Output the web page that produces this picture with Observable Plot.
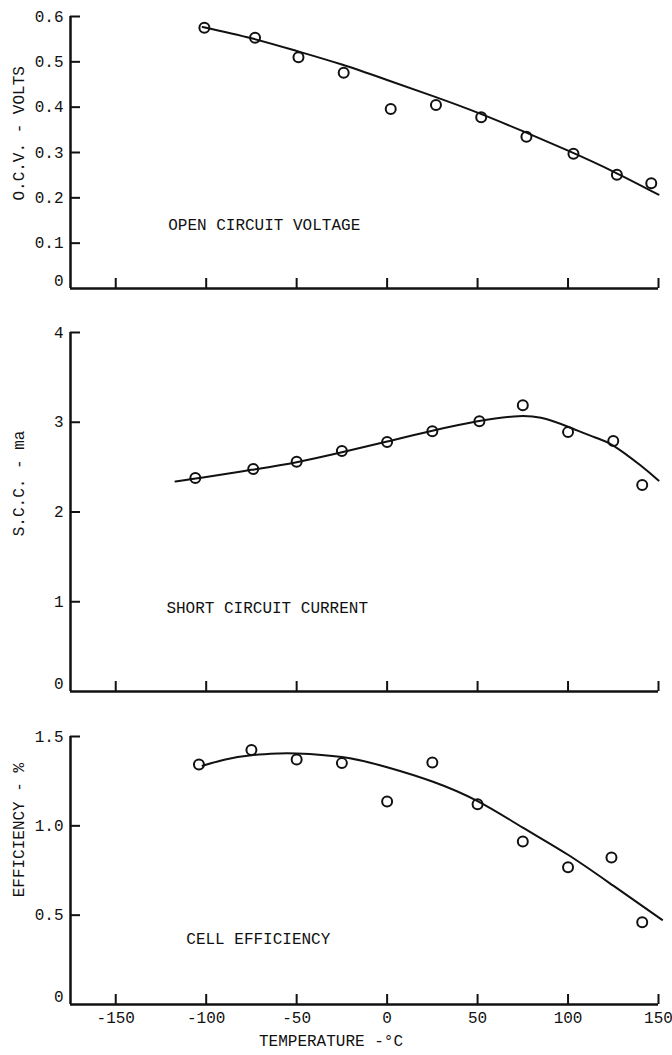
<!DOCTYPE html>
<html><head><meta charset="utf-8">
<script src="https://cdn.jsdelivr.net/npm/d3@7"></script>
<script src="https://cdn.jsdelivr.net/npm/@observablehq/plot@0.6"></script>
<style>body{margin:0;background:#fff} svg{display:block}</style>
</head><body><div id="chart"></div>
<script>
// Shared temperature axis
const xTicks = [-150, -100, -50, 0, 50, 100, 150];
const xTickLabels = ["-150", "-100", "-50", "0", "50", "100", "150"];
const xDomain = [-175, 150];

// Panel 1: open circuit voltage
const ocvTemps = [-101, -73, -49, -24, 2, 27, 52, 77, 103, 127, 146];
const ocvValues = [0.575, 0.553, 0.510, 0.476, 0.396, 0.405, 0.378, 0.335, 0.297, 0.251, 0.232];
const ocvFitTemps = [-102, -75, -50, -25, 0, 25, 50, 75, 100, 125, 150];
const ocvFitValues = [0.577, 0.552, 0.524, 0.494, 0.460, 0.425, 0.388, 0.347, 0.304, 0.258, 0.207];
const ocvTicks = [0, 0.1, 0.2, 0.3, 0.4, 0.5, 0.6];
const ocvTickLabels = ["0", "0.1", "0.2", "0.3", "0.4", "0.5", "0.6"];

// Panel 2: short circuit current
const sccTemps = [-106, -74, -50, -25, 0, 25, 51, 75, 100, 125, 141];
const sccValues = [2.38, 2.48, 2.56, 2.68, 2.78, 2.90, 3.01, 3.19, 2.89, 2.79, 2.30];
const sccFitTemps = [-117, -100, -75, -50, -25, 0, 25, 50, 70, 85, 100, 115, 125, 140, 150];
const sccFitValues = [2.34, 2.39, 2.47, 2.555, 2.665, 2.785, 2.905, 3.01, 3.065, 3.05, 2.95, 2.83, 2.74, 2.52, 2.35];
const sccTicks = [0, 1, 2, 3, 4];
const sccTickLabels = ["0", "1", "2", "3", "4"];

// Panel 3: cell efficiency
const effTemps = [-104, -75, -50, -25, 0, 25, 50, 75, 100, 124, 141];
const effValues = [1.343, 1.425, 1.371, 1.351, 1.136, 1.354, 1.121, 0.912, 0.768, 0.823, 0.461];
const effFitTemps = [-102, -90, -75, -60, -50, -25, 0, 25, 50, 75, 100, 125, 152];
const effFitValues = [1.336, 1.37, 1.395, 1.405, 1.405, 1.385, 1.328, 1.248, 1.138, 0.99, 0.838, 0.665, 0.474];
const effTicks = [0, 0.5, 1.0, 1.5];
const effTickLabels = ["0", "0.5", "1.0", "1.5"];

const INK = "#111";
const W = 672, ML = 70, MR = 14;

function panel(o) {
  const plotH = o.height - o.marginTop - o.marginBottom;
  const plotW = W - ML - MR;
  const idx = d3.range(o.temps.length);
  const fidx = d3.range(o.fitT.length);
  const nonzero = o.yTicks.filter(d => d !== 0);
  const fmtY = d => o.yLabels[o.yTicks.indexOf(d)];
  const marks = [
    Plot.ruleY([0], {stroke: INK, strokeWidth: 2.5}),
    Plot.ruleX([xDomain[0]], {stroke: INK, strokeWidth: 2.5}),
    Plot.tickY(nonzero, {y: d => d, stroke: INK, strokeWidth: 2, insetRight: plotW - 10}),
    Plot.tickX(xTicks, {x: d => d, stroke: INK, strokeWidth: 2, insetTop: plotH - 10}),
    Plot.axisY(nonzero, {tickSize: 0, tickPadding: 7, tickFormat: fmtY, label: null}),
    Plot.axisY([0], {tickSize: 0, tickPadding: 7, tickFormat: fmtY, label: null, dy: -8}),
    Plot.text([o.yTitle], {frameAnchor: "left", y: o.yTitleY, dx: -52, rotate: -90, fill: INK}),
    Plot.text([o.title], {x: o.titleX, y: o.titleY, textAnchor: "start", fill: INK}),
    Plot.line(fidx, {x: i => o.fitT[i], y: i => o.fitV[i], curve: "natural", stroke: INK, strokeWidth: 2}),
    Plot.dot(idx, {x: i => o.temps[i], y: i => o.values[i], r: 5, stroke: INK, strokeWidth: 2, fill: "none"})
  ];
  if (o.showX) {
    marks.push(Plot.axisX(xTicks, {tickSize: 0, tickPadding: 7, tickFormat: d => xTickLabels[xTicks.indexOf(d)], label: null}));
    marks.push(Plot.text(["TEMPERATURE -°C"], {x: -31, frameAnchor: "bottom", dy: 41, fill: INK}));
  }
  return Plot.plot({
    width: W, height: o.height,
    marginLeft: ML, marginRight: MR, marginTop: o.marginTop, marginBottom: o.marginBottom,
    style: {fontFamily: "Liberation Mono, monospace", fontSize: "16px", color: INK, background: "white"},
    x: {domain: xDomain, axis: o.showX ? undefined : null},
    y: {domain: [0, o.yTicks[o.yTicks.length - 1]]},
    marks
  });
}

const chart = document.getElementById("chart");
chart.append(panel({
  height: 310, marginTop: 16, marginBottom: 22,
  temps: ocvTemps, values: ocvValues, fitT: ocvFitTemps, fitV: ocvFitValues,
  yTicks: ocvTicks, yLabels: ocvTickLabels,
  yTitle: "O.C.V. - VOLTS", yTitleY: 0.194,
  title: "OPEN CIRCUIT VOLTAGE", titleX: -121, titleY: 0.141, showX: false
}));
chart.append(panel({
  height: 405, marginTop: 22, marginBottom: 24,
  temps: sccTemps, values: sccValues, fitT: sccFitTemps, fitV: sccFitValues,
  yTicks: sccTicks, yLabels: sccTickLabels,
  yTitle: "S.C.C. - ma", yTitleY: 1.73,
  title: "SHORT CIRCUIT CURRENT", titleX: -122, titleY: 0.936, showX: false
}));
chart.append(panel({
  height: 340, marginTop: 21, marginBottom: 51,
  temps: effTemps, values: effValues, fitT: effFitTemps, fitV: effFitValues,
  yTicks: effTicks, yLabels: effTickLabels,
  yTitle: "EFFICIENCY - %", yTitleY: 0.60,
  title: "CELL EFFICIENCY", titleX: -111, titleY: 0.37, showX: true
}));
</script>
</body></html>
